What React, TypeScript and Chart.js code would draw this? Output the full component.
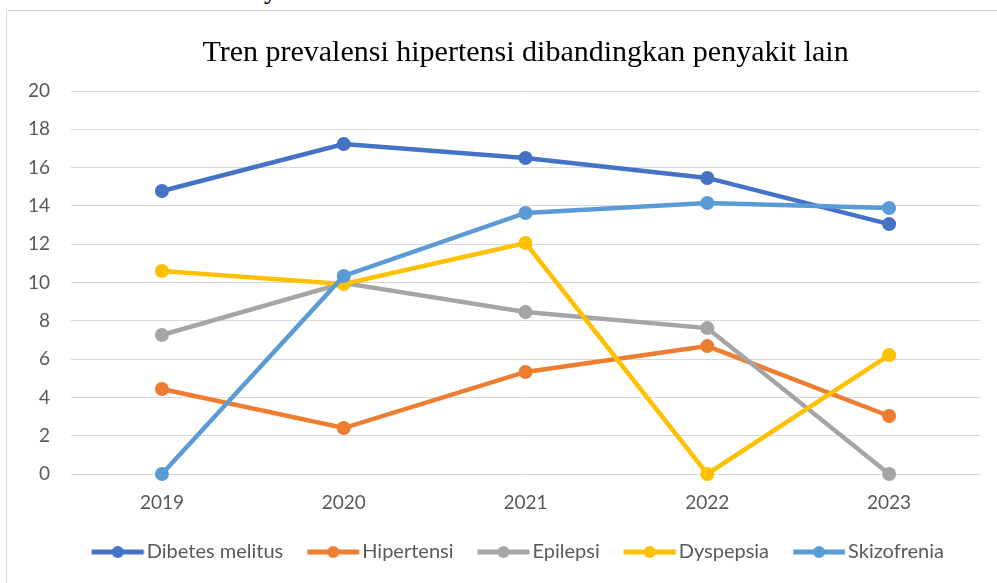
import React, { useEffect, useRef } from "react";
import { Chart, registerables } from "chart.js";

Chart.register(...registerables);

const years = ["2019", "2020", "2021", "2022", "2023"];
const diabetes = [14.78, 17.23, 16.5, 15.46, 13.05];
const hipertensi = [4.44, 2.4, 5.33, 6.68, 3.03];
const epilepsi = [7.26, 9.97, 8.46, 7.62, 0];
const dyspepsia = [10.6, 9.92, 12.06, 0, 6.21];
const skizofrenia = [0, 10.34, 13.63, 14.15, 13.89];

const seriesNames = ["Dibetes melitus", "Hipertensi", "Epilepsi", "Dyspepsia", "Skizofrenia"];
const seriesValues = [diabetes, hipertensi, epilepsi, dyspepsia, skizofrenia];
const seriesColors = ["#4472C4", "#ED7D31", "#A5A5A5", "#FFC000", "#5B9BD5"];
const yTicks = [0, 2, 4, 6, 8, 10, 12, 14, 16, 18, 20];

const titleText = "Tren prevalensi hipertensi dibandingkan penyakit lain";
const FONT = "Lato";

// legend marker: line with a dot, drawn inside a transparent image
function legendMarker(color: string): HTMLCanvasElement {
  const c = document.createElement("canvas");
  c.width = 58;
  c.height = 16;
  const ctx = c.getContext("2d")!;
  const x0 = 0.5;
  const x1 = x0 + 52;
  ctx.strokeStyle = color;
  ctx.lineWidth = 5;
  ctx.beginPath();
  ctx.moveTo(x0, 8);
  ctx.lineTo(x1, 8);
  ctx.stroke();
  ctx.fillStyle = color;
  ctx.beginPath();
  ctx.arc((x0 + x1) / 2, 8, 6, 0, Math.PI * 2);
  ctx.fill();
  return c;
}

export default function App() {
  const ref = useRef<HTMLCanvasElement | null>(null);

  useEffect(() => {
    if (!ref.current) return;
    const markers = seriesColors.map((c) => legendMarker(c));
    const chart = new Chart(ref.current, {
      type: "line",
      data: {
        labels: years,
        datasets: seriesNames.map((name, i) => ({
          label: name,
          data: seriesValues[i],
          borderColor: seriesColors[i],
          backgroundColor: seriesColors[i],
          pointBackgroundColor: seriesColors[i],
          pointBorderColor: seriesColors[i],
          borderWidth: 4.5,
          pointRadius: 6,
          pointBorderWidth: 2,
          tension: 0,
          fill: false,
          clip: false as any,
          order: seriesNames.length - i,
        })),
      },
      options: {
        responsive: false,
        animation: false,
        layout: { padding: { left: 0, right: 17, top: 0, bottom: 11 } },
        plugins: {
          tooltip: { enabled: false },
          title: {
            display: true,
            text: titleText,
            fullSize: false,
            color: "#000000",
            font: { family: "Liberation Serif", size: 30, weight: "normal" as any },
            padding: { top: 24, bottom: 20 },
          },
          legend: {
            position: "bottom",
            fullSize: true,
            align: "end",
            labels: {
              usePointStyle: true,
              pointStyleWidth: 33,
              color: "#595959",
              font: { family: FONT, size: 20 },
              padding: 36,
              generateLabels: (ch: any) =>
                ch.data.datasets.map((ds: any, i: number) => ({
                  text: ds.label,
                  fillStyle: seriesColors[i],
                  strokeStyle: seriesColors[i],
                  lineWidth: 0,
                  pointStyle: markers[i],
                  fontColor: "#595959",
                  hidden: false,
                  datasetIndex: i,
                })),
            },
          },
        },
        scales: {
          x: {
            offset: true,
            grid: { display: false, drawTicks: false },
            border: { display: false },
            ticks: {
              color: "#595959",
              font: { family: FONT, size: 19 },
              mirror: true,
              padding: -39.8,
            },
            afterFit: (scale: any) => {
              scale.height = 32;
            },
          },
          y: {
            min: 0,
            max: 20,
            afterBuildTicks: (axis: any) => {
              axis.ticks = yTicks.map((v) => ({ value: v }));
            },
            grid: { color: "#D9D9D9", lineWidth: 1, drawTicks: false },
            border: { display: false },
            ticks: { color: "#595959", font: { family: FONT, size: 19 }, padding: 21 },
          },
        },
      },
    });
    return () => chart.destroy();
  }, []);

  return (
    <div style={{ position: "absolute", left: 0, top: 0, width: 997, height: 583, overflow: "hidden", background: "#ffffff" }}>
      <div
        style={{
          position: "absolute",
          left: 264,
          top: -24,
          fontFamily: "Liberation Serif",
          fontSize: 27,
          lineHeight: "27px",
          color: "#000",
        }}
      >
        y
      </div>
      <div
        style={{
          position: "absolute",
          left: 6,
          top: 10,
          width: 1100,
          height: 700,
          border: "1px solid #D9D9D9",
        }}
      />
      <canvas ref={ref} width={990} height={572} style={{ position: "absolute", left: 7, top: 11 }} />
    </div>
  );
}
